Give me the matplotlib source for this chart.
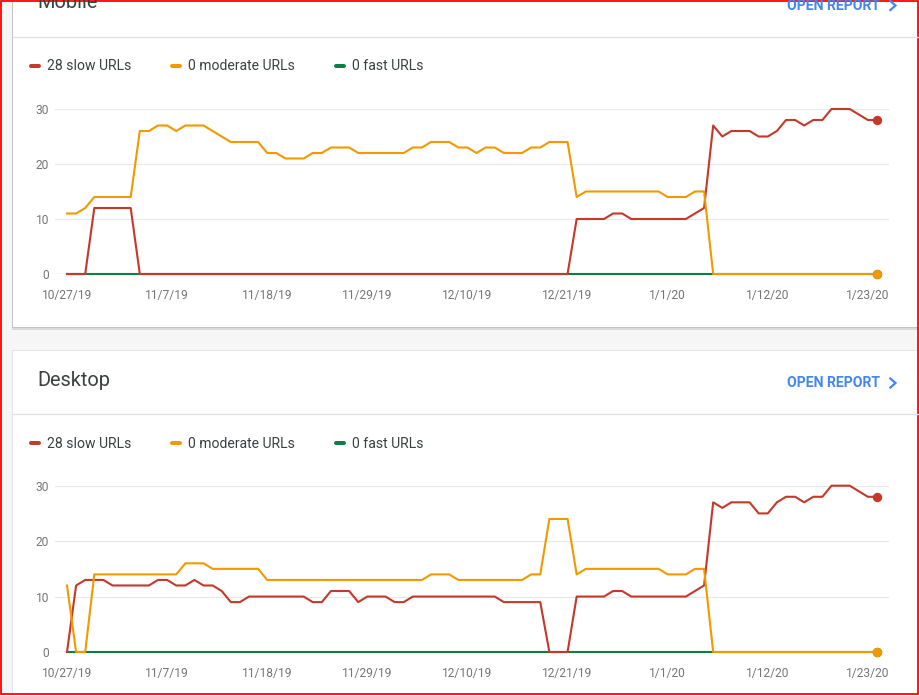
import numpy as np
import matplotlib
matplotlib.use('Agg')
import matplotlib.pyplot as plt
from matplotlib.patches import Rectangle
from matplotlib.lines import Line2D

plt.rcParams['font.family'] = ['Roboto', 'DejaVu Sans']

W, H = 919, 695
DPI = 100

# ---------------- data ----------------
tick_days = [0, 11, 22, 33, 44, 55, 66, 77, 88]
tick_labels = ['10/27/19', '11/7/19', '11/18/19', '11/29/19', '12/10/19',
               '12/21/19', '1/1/20', '1/12/20', '1/23/20']
y_ticks = [0, 10, 20, 30]
series_names = ['28 slow URLs', '0 moderate URLs', '0 fast URLs']

mobile_slow = ([0, 0, 0] + [12] * 5 + [0] * 48 + [10] * 4 + [11, 11] + [10] * 7 +
               [11, 12, 27, 25, 26, 26, 26, 25, 25, 26, 28, 28, 27, 28, 28,
                30, 30, 30, 29, 28, 28])
mobile_moderate = ([11, 11, 12] + [14] * 5 + [26, 26, 27, 27, 26, 27, 27, 27, 26, 25] +
                   [24] * 4 + [22, 22, 21, 21, 21, 22, 22, 23, 23, 23] + [22] * 6 +
                   [23, 23, 24, 24, 24, 23, 23, 22, 23, 23, 22, 22, 22, 23, 23,
                    24, 24, 24, 14] + [15] * 9 + [14, 14, 14, 15, 15] + [0] * 19)
mobile_fast = [0] * 90

desktop_slow = ([0, 12, 13, 13, 13] + [12] * 5 + [13, 13, 12, 12, 13, 12, 12, 11, 9, 9] +
                [10] * 7 + [9, 9, 11, 11, 11, 9, 10, 10, 10, 9, 9] + [10] * 10 +
                [9] * 5 + [0, 0, 0] + [10] * 4 + [11, 11] + [10] * 7 +
                [11, 12, 27, 26, 27, 27, 27, 25, 25, 27, 28, 28, 27, 28, 28,
                 30, 30, 30, 29, 28, 28])
desktop_moderate = ([12, 0, 0] + [14] * 10 + [16] * 3 + [15] * 6 + [13] * 18 +
                    [14] * 3 + [13] * 8 + [14, 14, 24, 24, 24, 14] + [15] * 9 +
                    [14, 14, 14, 15, 15] + [0] * 19)
desktop_fast = [0] * 90

days = np.arange(len(mobile_slow))

RED = '#c5392a'
ORANGE = '#f29900'
GREEN = '#0b8043'
BLUE = '#4285f4'
GRID = '#e8e8e8'
TICKC = '#757575'
TEXTC = '#3c4043'

def px(v):
    return v * 72.0 / DPI

fig = plt.figure(figsize=(W / DPI, H / DPI), dpi=DPI)
fig.patch.set_facecolor('#f6f6f6')

# background / cards
bg = fig.add_axes([0, 0, 1, 1], zorder=-5)
bg.set_xlim(0, W)
bg.set_ylim(H, 0)
bg.axis('off')
bg.set_facecolor('#f6f6f6')

# card 1 (Mobile)
bg.add_patch(Rectangle((11.5, -30), 1000, 359.5, facecolor='#dadada', edgecolor='none'))
bg.add_patch(Rectangle((12.3, -30), 1000, 358, facecolor='#c4c4c4', edgecolor='none'))
bg.add_patch(Rectangle((13, -30), 1000, 356.5, facecolor='white', edgecolor='none'))
# card 2 (Desktop)
bg.add_patch(Rectangle((11.5, 349.5), 1000, 400, facecolor='#e4e4e4', edgecolor='none'))
bg.add_patch(Rectangle((13, 351), 1000, 400, facecolor='white', edgecolor='none'))

# dividers
bg.plot([13, W], [37.3, 37.3], color='#e0e0e0', lw=px(1.3))
bg.plot([13, W], [414.3, 414.3], color='#e0e0e0', lw=px(1.3))

# titles
bg.text(37, 2, 'Mobile', fontsize=px(20), color=TEXTC, va='center', ha='left')
bg.text(37, 380, 'Desktop', fontsize=px(20), color=TEXTC, va='center', ha='left')
for yc in (5.5, 383):
    bg.text(880, yc, 'OPEN REPORT', fontsize=px(14), color=BLUE, va='center',
            ha='right', fontweight='bold')
    bg.plot([889.5, 895.5, 889.5], [yc - 5.3, yc, yc + 5.3], color=BLUE,
            lw=px(2.2), solid_joinstyle='miter', solid_capstyle='butt')

# red border
bg.add_patch(Rectangle((0.8, 0.8), W - 1.8, H - 1.8, facecolor='none',
                       edgecolor='#ff0000', lw=px(1.8)))


def make_chart(top_px, bottom_px, slow, moderate, fast, legend_y):
    x0, x1 = 55, 889
    left_d, right_d = 67, 877
    ppd = (right_d - left_d) / (len(days) - 1)
    ax = fig.add_axes([x0 / W, 1 - bottom_px / H, (x1 - x0) / W,
                       (bottom_px - top_px) / H])
    ax.set_facecolor('none')
    ax.set_xlim(-(left_d - x0) / ppd, (len(days) - 1) + (x1 - right_d) / ppd)
    ax.set_ylim(0, 30)
    for s in ax.spines.values():
        s.set_visible(False)
    for yv in y_ticks[1:]:
        ax.axhline(yv, color=GRID, lw=px(1.2), zorder=0)
    ax.axhline(0, color='#a0a0a0', lw=px(1.2), zorder=0.5)
    ax.set_yticks(y_ticks)
    ax.set_yticklabels([str(v) for v in y_ticks])
    ax.set_xticks(tick_days)
    ax.set_xticklabels(tick_labels)
    ax.tick_params(axis='both', length=0, labelsize=px(12), labelcolor=TICKC)
    ax.tick_params(axis='y', pad=px(6))
    ax.tick_params(axis='x', pad=px(15))
    lw = px(2.1)
    ax.plot(days, fast, color=GREEN, lw=lw, zorder=2, clip_on=False)
    ax.plot(days, slow, color=RED, lw=lw, zorder=3, clip_on=False)
    ax.plot(days, moderate, color=ORANGE, lw=lw, zorder=4, clip_on=False)
    ax.plot(days[-1:], fast[-1:], 'o', color=GREEN, ms=px(8), zorder=5, clip_on=False)
    ax.plot(days[-1:], slow[-1:], 'o', color=RED, ms=px(8), zorder=6, clip_on=False)
    ax.plot(days[-1:], moderate[-1:], 'o', color=ORANGE, ms=px(8), zorder=7, clip_on=False)

    fs = 14.0
    handles = [Line2D([], [], color=c, lw=px(4), solid_capstyle='round')
               for c in (RED, ORANGE, GREEN)]
    fig.legend(handles, series_names, loc='center left',
               bbox_to_anchor=(31 / W, 1 - legend_y / H), ncol=3, frameon=False,
               fontsize=px(fs), labelcolor=TEXTC, borderpad=0, borderaxespad=0,
               handlelength=8 / fs, handletextpad=8 / fs, columnspacing=41 / fs)
    return ax


make_chart(109, 274, mobile_slow, mobile_moderate, mobile_fast, 66.5)
make_chart(485.7, 652, desktop_slow, desktop_moderate, desktop_fast, 443.5)

fig.savefig('out.png', dpi=DPI, facecolor=fig.get_facecolor())
